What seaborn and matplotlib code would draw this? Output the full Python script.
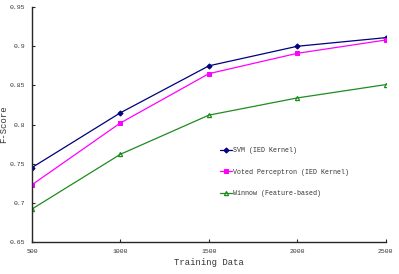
import matplotlib
matplotlib.use("Agg")
import matplotlib.pyplot as plt
import seaborn as sns
import pandas as pd

training = [500, 1000, 1500, 2000, 2500]
svm = [0.745, 0.815, 0.875, 0.900, 0.911]
voted = [0.723, 0.802, 0.865, 0.891, 0.908]
winnow = [0.692, 0.762, 0.812, 0.834, 0.851]
series_names = ["SVM (IED Kernel)", "Voted Perceptron (IED Kernel)", "Winnow (Feature-based)"]
yticks = [0.65, 0.7, 0.75, 0.8, 0.85, 0.9, 0.95]
ytick_labels = ["0.65", "0.7", "0.75", "0.8", "0.85", "0.9", "0.95"]

sns.set_style("ticks")
plt.rcParams["font.family"] = ["Liberation Mono", "DejaVu Sans Mono"]

fig = plt.figure(figsize=(3.99, 2.74), dpi=100)
ax = fig.add_axes([0.080, 0.117, 0.887, 0.857])

colors = ["#000080", "#FF00FF", "#1E8C1E"]
styles = [dict(marker="D", markersize=2.6),
          dict(marker="s", markersize=3.0),
          dict(marker="^", markersize=3.0, markerfacecolor="none", markeredgewidth=0.9)]
for name, vals, c, st in zip(series_names, [svm, voted, winnow], colors, styles):
    df = pd.DataFrame({"Training Data": training, "F-Score": vals})
    sns.lineplot(data=df, x="Training Data", y="F-Score", color=c, linewidth=0.9,
                 label=name, ax=ax, markeredgecolor=c, **st)

ax.set_xlim(500, 2500)
ax.set_ylim(0.65, 0.95)
ax.set_xticks(training)
ax.set_xticklabels([str(t) for t in training], fontsize=4.6, color="#333333")
ax.set_yticks(yticks)
ax.set_yticklabels(ytick_labels, fontsize=4.6, color="#333333")
ax.tick_params(direction="in", length=2.5, width=0.8, pad=5)
for s in ["top", "right"]:
    ax.spines[s].set_visible(False)
for s in ["left", "bottom"]:
    ax.spines[s].set_linewidth(1.0)
ax.set_xlabel("Training Data", fontsize=6.4, labelpad=3, color="#333333")
ax.set_ylabel("F-Score", fontsize=6.4, color="#333333")
ax.yaxis.set_label_coords(-0.068, 0.5)

leg = ax.legend(loc="upper left", bbox_to_anchor=(0.515, 0.43), frameon=False,
                fontsize=4.8, labelspacing=2.2, handlelength=1.8, handletextpad=0.1)
for t in leg.get_texts():
    t.set_color("#333333")

fig.savefig("out.png", dpi=100)
